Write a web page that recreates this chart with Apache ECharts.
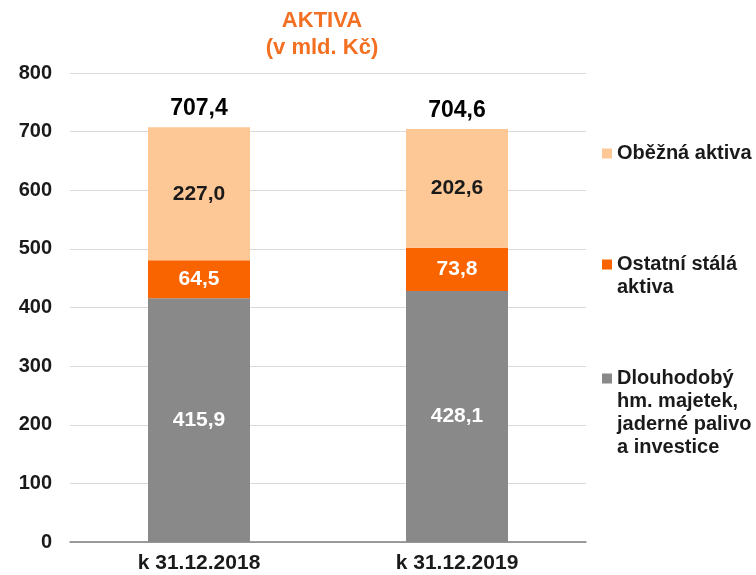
<!DOCTYPE html>
<html>
<head>
    <meta charset="utf-8">
    <title>Aktiva</title>
    <script src="https://cdn.jsdelivr.net/npm/echarts@6/dist/echarts.min.js"></script>
    <style>
        html, body { margin: 0; padding: 0; background: #fff; }
        #chart { width: 756px; height: 575px; }
    </style>
</head>
<body>
<div id="chart"></div>
<script>
    // data
    var categories = ['k 31.12.2018', 'k 31.12.2019'];
    var dlouhodoby = [415.9, 428.1];
    var ostatni = [64.5, 73.8];
    var obezna = [227.0, 202.6];
    var totals = [707.4, 704.6];
    var yTicks = [0, 100, 200, 300, 400, 500, 600, 700, 800];

    var fmt = function (v) {
        return v.toFixed(1).replace('.', ',');
    };

    var font = '"Liberation Sans", Arial, sans-serif';
    var labelBase = { show: true, position: 'inside', fontFamily: font, fontWeight: 'bold', fontSize: 21 };

    var myChart = echarts.init(document.getElementById('chart'));

    // legenda: prázdné řádky nahoře, aby ikona seděla u prvního řádku
    var makeLegend = function (name, text, top) {
        var lines = text.split('\n').length;
        var pad = new Array(lines).join('\n');
        return {
            data: [name],
            left: 597,
            top: top,
            icon: 'rect',
            itemWidth: 10,
            itemHeight: 10,
            selectedMode: false,
            formatter: function () { return pad + text; },
            textStyle: {
                fontFamily: font,
                fontWeight: 'bold',
                fontSize: 20,
                color: '#1a1a1a',
                lineHeight: 23
            }
        };
    };

    var option = {
        animation: false,
        title: {
            text: 'AKTIVA\n(v mld. Kč)',
            left: 317,
            top: 2,
            textAlign: 'center',
            textStyle: {
                fontFamily: font,
                fontWeight: 'bold',
                fontSize: 22,
                lineHeight: 27,
                color: '#f36f21'
            }
        },
        legend: [
            makeLegend('Oběžná aktiva', 'Oběžná aktiva', 137),
            makeLegend('Ostatní stálá aktiva', 'Ostatní stálá\naktiva', 225),
            makeLegend('Dlouhodobý', 'Dlouhodobý\nhm. majetek,\njaderné palivo\na investice', 293)
        ],
        grid: {
            left: 70,
            right: 170,
            top: 73,
            bottom: 33
        },
        xAxis: {
            type: 'category',
            data: categories,
            axisTick: { show: false },
            axisLine: { lineStyle: { color: '#7f7f7f', width: 1.5 } },
            axisLabel: {
                fontFamily: font,
                fontWeight: 'bold',
                fontSize: 21,
                color: '#1a1a1a',
                margin: 11
            }
        },
        yAxis: {
            type: 'value',
            min: yTicks[0],
            max: yTicks[yTicks.length - 1],
            interval: 100,
            axisLine: { show: false },
            axisTick: { show: false },
            splitLine: { lineStyle: { color: '#d9d9d9', width: 1 } },
            axisLabel: {
                fontFamily: font,
                fontWeight: 'bold',
                fontSize: 20,
                color: '#1a1a1a',
                margin: 18
            }
        },
        series: [
            {
                name: 'Dlouhodobý',
                type: 'bar',
                stack: 'a',
                barWidth: 102,
                data: dlouhodoby,
                itemStyle: { color: '#898989' },
                label: Object.assign({}, labelBase, {
                    color: '#fff',
                    formatter: function (p) { return fmt(p.value); }
                })
            },
            {
                name: 'Ostatní stálá aktiva',
                type: 'bar',
                stack: 'a',
                data: ostatni,
                itemStyle: { color: '#fa6400' },
                label: Object.assign({}, labelBase, {
                    color: '#fff',
                    formatter: function (p) { return fmt(p.value); }
                })
            },
            {
                name: 'Oběžná aktiva',
                type: 'bar',
                stack: 'a',
                data: obezna,
                itemStyle: { color: '#fdc896' },
                label: Object.assign({}, labelBase, {
                    color: '#1a1a1a',
                    formatter: function (p) { return fmt(p.value); }
                })
            },
            {
                // součet nad sloupcem
                name: 'Celkem',
                type: 'bar',
                stack: 'a',
                data: totals.map(function () { return 0; }),
                itemStyle: { color: 'transparent' },
                label: Object.assign({}, labelBase, {
                    position: 'top',
                    distance: 7,
                    fontSize: 23,
                    color: '#000',
                    formatter: function (p) { return fmt(totals[p.dataIndex]); }
                })
            }
        ]
    };

    myChart.setOption(option);
</script>
</body>
</html>
